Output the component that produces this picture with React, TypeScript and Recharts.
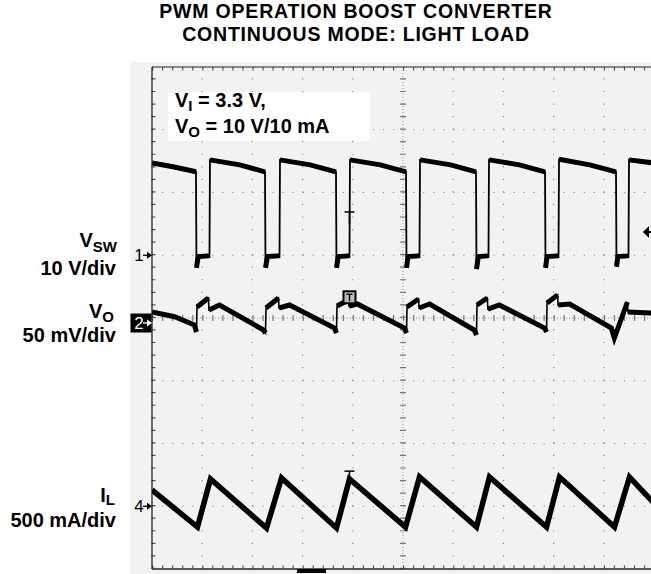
import { LineChart, Line, XAxis, YAxis, ReferenceLine, ReferenceDot } from "recharts";

// x: time in screen divisions (10 across), y: screen divisions (8 tall, 0 = centre line)
const GRID_X = [1, 2, 3, 4, 6, 7, 8, 9];
const GRID_Y = [-3, -2, -1, 1, 2, 3];
const CH_REF = [
    { ch: "1", level: 1 },
    { ch: "2", level: -0.08 },
    { ch: "4", level: -3 },
];

// V_SW, 10 V/div
const VSW: number[][] = [
    [0, 2.47], [0.42, 2.41], [0.876, 2.33], [0.886, 0.8], [0.92, 0.98], [1.125, 0.99], [1.145, 1.0],
    [1.155, 2.52], [1.75, 2.44], [2.251, 2.33], [2.261, 0.8], [2.3, 0.98], [2.52, 0.99], [2.54, 1.0],
    [2.55, 2.52], [3.15, 2.44], [3.665, 2.33], [3.675, 0.8], [3.71, 0.98], [3.914, 0.99], [3.934, 1.0],
    [3.944, 2.52], [4.55, 2.44], [5.06, 2.33], [5.07, 0.8], [5.1, 0.98], [5.309, 0.99], [5.329, 1.0],
    [5.339, 2.52], [5.95, 2.44], [6.454, 2.33], [6.464, 0.78], [6.5, 0.98], [6.683, 0.99], [6.703, 1.0],
    [6.713, 2.52], [7.32, 2.44], [7.829, 2.33], [7.839, 0.8], [7.87, 0.98], [8.078, 0.99], [8.098, 1.0],
    [8.108, 2.53], [8.72, 2.44], [9.243, 2.33], [9.253, 0.82], [9.28, 0.98], [9.472, 0.99], [9.492, 1.0],
    [9.502, 2.52], [10, 2.47],
];

// V_O ripple, 50 mV/div
const VO: number[][] = [
    [0, 0.096], [0.45, 0.02], [0.846, -0.112], [0.886, -0.223], [0.896, 0.175], [1.125, 0.319], [1.135, 0.127],
    [1.345, 0.207], [2.221, -0.191], [2.261, -0.239], [2.271, 0.159], [2.52, 0.319], [2.53, 0.159],
    [2.74, 0.207], [3.635, -0.159], [3.675, -0.239], [3.685, 0.191], [3.914, 0.287], [3.924, 0.191],
    [4.09, 0.223], [5.03, -0.159], [5.07, -0.239], [5.08, 0.175], [5.31, 0.303], [5.32, 0.159],
    [5.53, 0.223], [6.42, -0.191], [6.464, -0.271], [6.474, 0.207], [6.68, 0.319], [6.69, 0.143],
    [6.92, 0.207], [7.82, -0.159], [7.859, -0.223], [7.869, 0.239], [8.08, 0.367], [8.09, 0.207],
    [8.32, 0.223], [9.15, -0.159], [9.21, -0.319], [9.47, 0.255], [9.48, 0.096], [9.93, 0.08], [10, 0.08],
];

// I_L, 500 mA/div
const IL: number[][] = [
    [0, -2.741], [0.906, -3.331], [1.165, -2.566], [2.281, -3.347], [2.58, -2.55], [3.675, -3.347],
    [3.934, -2.566], [5.05, -3.331], [5.329, -2.534], [6.464, -3.331], [6.723, -2.534], [7.859, -3.331],
    [8.118, -2.534], [9.213, -3.331], [9.512, -2.534], [10, -2.95],
];

const FONT = "'Liberation Sans', Arial, Helvetica, sans-serif";
const DOT_H = "1.2 8.84";
const DOT_V = "1.2 11.35";

const rows = (pairs: number[][]) => pairs.map(([t, v]) => ({ t, v }));

// the noisy band is only drawn on the flat / sloped parts, not on the switching edges
const band = (pairs: number[][]) => {
    const out: { t: number; v: number | null }[] = [];
    pairs.forEach(([t, v], i) => {
        out.push({ t, v });
        const next = pairs[i + 1];
        if (next && next[0] - t < 0.015) out.push({ t: (t + next[0]) / 2, v: null });
    });
    return out;
};

const ChannelTick = (props: any) => {
    const { x, y, payload } = props;
    const ref = CH_REF.find((c) => c.level === payload.value);
    if (!ref) return null;
    const inv = ref.ch === "2";
    const col = inv ? "#fff" : "#000";
    return (
        <g>
            {inv && <rect x={x - 21.5} y={y - 9.5} width={21} height={19} fill="#000" />}
            <text x={x - 13} y={y + 6} fontSize={17} textAnchor="middle" fill={col} fontFamily={FONT}>
                {ref.ch}
            </text>
            <line x1={x - 9} y1={y} x2={x - 3} y2={y} stroke={col} strokeWidth={1.3} />
            <path d={`M${x - 5} ${y - 3.5} L${x} ${y} L${x - 5} ${y + 3.5} Z`} fill={col} />
        </g>
    );
};

const TMark = ({ cx, cy, stem }: any) => (
    <g>
        <line x1={cx - 5} y1={cy} x2={cx + 5} y2={cy} stroke="#000" strokeWidth={1.5} />
        <line x1={cx} y1={cy} x2={cx} y2={cy + stem} stroke="#000" strokeWidth={1.5} />
    </g>
);

const TBox = ({ cx, cy }: any) => (
    <g>
        <rect x={cx - 6} y={cy - 6} width={12} height={12} fill="#bbb" stroke="#000" strokeWidth={2} />
        <line x1={cx - 3} y1={cy - 3} x2={cx + 3} y2={cy - 3} stroke="#000" strokeWidth={1.3} />
        <line x1={cx} y1={cy - 3} x2={cx} y2={cy + 4} stroke="#000" strokeWidth={1.3} />
    </g>
);

const TrigArrow = ({ cx, cy }: any) => (
    <g>
        <path d={`M${cx - 11} ${cy} L${cx - 5} ${cy - 6} L${cx - 5} ${cy + 6} Z`} fill="#000" />
        <line x1={cx - 6} y1={cy} x2={cx - 2} y2={cy} stroke="#000" strokeWidth={2} />
    </g>
);

export default function App() {
    return (
        <div style={{ position: "absolute", left: 0, top: 0, width: 651, height: 574, overflow: "hidden", background: "#fff" }}>
            <div style={{ position: "absolute", left: 130, top: 62, width: 521, height: 512, background: "#f2f2f2" }} />
            <div style={{ position: "absolute", left: 0, top: 0 }}>
                <LineChart width={660} height={574} margin={{ top: 67, right: 6, bottom: 5, left: 0 }}>
                    <XAxis type="number" dataKey="t" domain={[0, 10]} hide allowDataOverflow />
                    <YAxis
                        type="number"
                        domain={[-4, 4]}
                        width={152}
                        ticks={CH_REF.map((c) => c.level)}
                        interval={0}
                        tick={(p: any) => <ChannelTick {...p} />}
                        tickLine={false}
                        tickSize={0}
                        tickMargin={0}
                        axisLine={{ stroke: "#111", strokeWidth: 1.2 }}
                        allowDataOverflow
                    />
                    {GRID_X.map((g) => (
                        <ReferenceLine key={`gx${g}`} x={g} stroke="#8a8a8a" strokeWidth={1.2} strokeDasharray={DOT_V} />
                    ))}
                    {GRID_Y.map((g) => (
                        <ReferenceLine key={`gy${g}`} y={g} stroke="#8a8a8a" strokeWidth={1.2} strokeDasharray={DOT_H} />
                    ))}
                    <ReferenceLine x={5} stroke="#999" strokeDasharray="1 2" />
                    <ReferenceLine x={5} stroke="#777" strokeWidth={6} strokeDasharray={DOT_V} />
                    <ReferenceLine y={0} stroke="#999" strokeDasharray="1 2" />
                    <ReferenceLine y={0} stroke="#777" strokeWidth={6} strokeDasharray={DOT_H} />
                    <ReferenceLine y={4} stroke="#222" strokeWidth={1.2} />
                    <ReferenceLine y={3.975} stroke="#555" strokeWidth={4} strokeDasharray={DOT_H} />
                    <ReferenceLine y={-4} stroke="#222" strokeWidth={1.5} />
                    <ReferenceLine y={-3.975} stroke="#555" strokeWidth={4} strokeDasharray={DOT_H} />
                    <ReferenceLine x={0.03} stroke="#555" strokeWidth={4} strokeDasharray={DOT_V} />

                    <Line data={rows(VSW)} dataKey="v" stroke="#000" strokeWidth={1.8} dot={false} isAnimationActive={false} />
                    <Line data={band(VSW)} dataKey="v" stroke="#000" strokeWidth={5} dot={false} connectNulls={false} isAnimationActive={false} />
                    <Line data={rows(VO)} dataKey="v" stroke="#000" strokeWidth={1.6} dot={false} isAnimationActive={false} />
                    <Line data={band(VO)} dataKey="v" stroke="#000" strokeWidth={5} dot={false} connectNulls={false} isAnimationActive={false} />
                    <Line data={rows(IL)} dataKey="v" stroke="#000" strokeWidth={5.5} dot={false} isAnimationActive={false} />

                    <ReferenceDot x={3.934} y={1.69} r={0} shape={(p: any) => <TMark {...p} stem={12} />} />
                    <ReferenceDot x={3.934} y={0.33} r={0} shape={(p: any) => <TBox {...p} />} />
                    <ReferenceDot x={3.934} y={-2.44} r={0} shape={(p: any) => <TMark {...p} stem={8} />} />
                    <ReferenceDot x={10} y={1.37} r={0} ifOverflow="visible" shape={(p: any) => <TrigArrow {...p} />} />
                </LineChart>
            </div>
            <svg width={651} height={574} style={{ position: "absolute", left: 0, top: 0, pointerEvents: "none" }} fontFamily={FONT} fontWeight="bold">
                <text x={356} y={18} fontSize={19.5} letterSpacing={0.8} textAnchor="middle">PWM OPERATION BOOST CONVERTER</text>
                <text x={356} y={41} fontSize={19.5} letterSpacing={0.8} textAnchor="middle">CONTINUOUS MODE: LIGHT LOAD</text>

                <rect x={168} y={92} width={202} height={49} fill="#fff" />
                <text x={175} y={107} fontSize={20}>
                    V<tspan fontSize={15} dy={4}>I</tspan><tspan dy={-4}>{" = 3.3 V,"}</tspan>
                </text>
                <text x={175} y={133} fontSize={20}>
                    V<tspan fontSize={15} dy={4}>O</tspan><tspan dy={-4}>{" = 10 V/10 mA"}</tspan>
                </text>

                <text x={117} y={247} fontSize={20} textAnchor="end">
                    V<tspan fontSize={15} dy={5}>SW</tspan>
                </text>
                <text x={116} y={275} fontSize={20} textAnchor="end">10 V/div</text>
                <text x={114} y={318} fontSize={20} textAnchor="end">
                    V<tspan fontSize={15} dy={4}>O</tspan>
                </text>
                <text x={116} y={342} fontSize={20} textAnchor="end">50 mV/div</text>
                <text x={115} y={502} fontSize={20} textAnchor="end">
                    I<tspan fontSize={15} dy={3}>L</tspan>
                </text>
                <text x={116} y={527} fontSize={20} textAnchor="end">500 mA/div</text>

                <rect x={297} y={569} width={29} height={4} fill="#000" />
            </svg>
        </div>
    );
}
